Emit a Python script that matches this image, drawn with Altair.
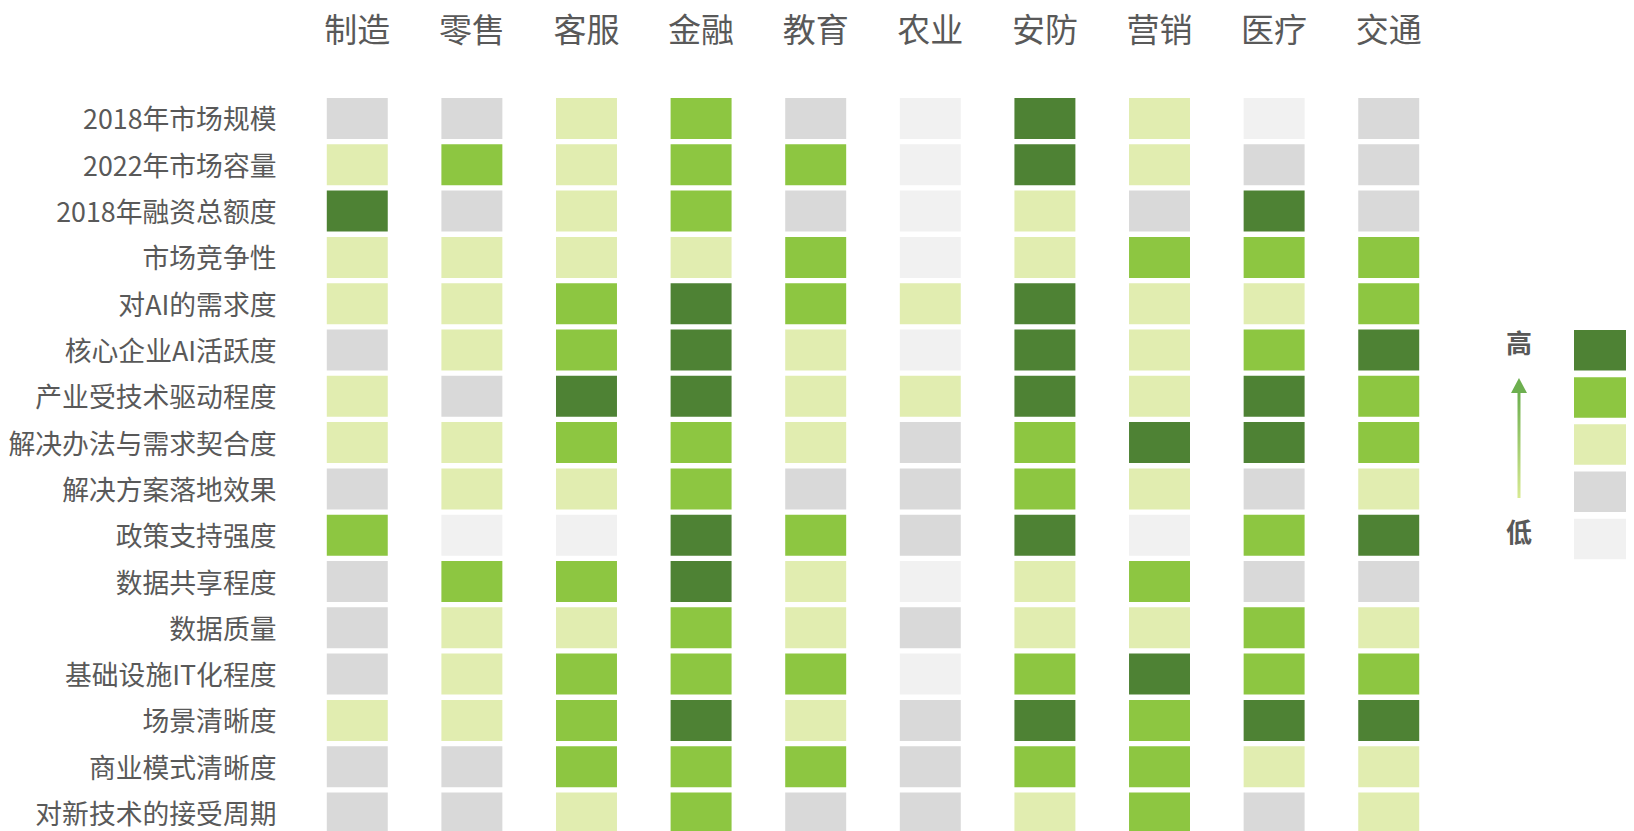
import altair as alt
import pandas as pd

# ---------------- data ----------------
industries = ["制造", "零售", "客服", "金融", "教育", "农业", "安防", "营销", "医疗", "交通"]
dimensions = [
    "2018年市场规模", "2022年市场容量", "2018年融资总额度", "市场竞争性",
    "对AI的需求度", "核心企业AI活跃度", "产业受技术驱动程度", "解决办法与需求契合度",
    "解决方案落地效果", "政策支持强度", "数据共享程度", "数据质量",
    "基础设施IT化程度", "场景清晰度", "商业模式清晰度", "对新技术的接受周期",
]
# level per industry (1 = 低 ... 5 = 高), order follows `industries`
r01 = [2, 2, 3, 4, 2, 1, 5, 3, 1, 2]
r02 = [3, 4, 3, 4, 4, 1, 5, 3, 2, 2]
r03 = [5, 2, 3, 4, 2, 1, 3, 2, 5, 2]
r04 = [3, 3, 3, 3, 4, 1, 3, 4, 4, 4]
r05 = [3, 3, 4, 5, 4, 3, 5, 3, 3, 4]
r06 = [2, 3, 4, 5, 3, 1, 5, 3, 4, 5]
r07 = [3, 2, 5, 5, 3, 3, 5, 3, 5, 4]
r08 = [3, 3, 4, 4, 3, 2, 4, 5, 5, 4]
r09 = [2, 3, 3, 4, 2, 2, 4, 3, 2, 3]
r10 = [4, 1, 1, 5, 4, 2, 5, 1, 4, 5]
r11 = [2, 4, 4, 5, 3, 1, 3, 4, 2, 2]
r12 = [2, 3, 3, 4, 3, 2, 3, 3, 4, 3]
r13 = [2, 3, 4, 4, 4, 1, 4, 5, 4, 4]
r14 = [3, 3, 4, 5, 3, 2, 5, 4, 5, 5]
r15 = [2, 2, 4, 4, 4, 2, 4, 4, 3, 3]
r16 = [2, 2, 3, 4, 2, 2, 3, 4, 2, 3]
rows = [r01, r02, r03, r04, r05, r06, r07, r08, r09, r10, r11, r12, r13, r14, r15, r16]

level_domain = [1, 2, 3, 4, 5]
level_colors = ["#F1F1F1", "#D9D9D9", "#E1EDB0", "#8DC641", "#4E8234"]
legend_levels = [5, 4, 3, 2, 1]
legend_marks = ["高", "低"]
legend_mark_levels = [5, 1]

# ---------------- tables ----------------
records = []
for dim, vals in zip(dimensions, rows):
    for ind, v in zip(industries, vals):
        records.append({"dimension": dim, "industry": ind, "level": v})
df = pd.DataFrame(records)
leg_df = pd.DataFrame({"level": legend_levels})
txt_df = pd.DataFrame({"level": legend_mark_levels, "label": legend_marks})
one_df = pd.DataFrame({"k": [0]})

FONT = "Noto Sans CJK SC"
TXT = "#595959"

color = alt.Color(
    "level:O",
    scale=alt.Scale(domain=level_domain, range=level_colors),
    legend=None,
)

heat = alt.Chart(df).mark_rect().encode(
    x=alt.X(
        "industry:N",
        sort=industries,
        scale=alt.Scale(domain=industries, range=[0, 1144], paddingInner=0.468, paddingOuter=0.225),
        axis=alt.Axis(
            orient="top", title=None, labelFontSize=33, labelFont=FONT, labelColor=TXT,
            labelPadding=47, labelAngle=0, labelLimit=400, domain=False, ticks=False, tickSize=0,
        ),
    ),
    y=alt.Y(
        "dimension:N",
        sort=dimensions,
        scale=alt.Scale(domain=dimensions, range=[0, 741.5], paddingInner=0.115, paddingOuter=0.065),
        axis=alt.Axis(
            title=None, labelFontSize=26.8, labelFont=FONT, labelColor=TXT,
            labelPadding=25, labelLimit=400, labelOffset=3, domain=False, ticks=False, tickSize=0,
        ),
    ),
    color=color,
)

leg_y = alt.Y(
    "level:O",
    sort=legend_levels,
    scale=alt.Scale(domain=legend_levels, range=[231.6, 467.6], paddingInner=0.142, paddingOuter=0.071),
    axis=None,
)

legend_rects = alt.Chart(leg_df).mark_rect().encode(
    x=alt.value(1273), x2=alt.value(1345), y=leg_y, color=color
)

legend_text = alt.Chart(txt_df).mark_text(
    font=FONT, fontSize=26, fontWeight="bold", color=TXT, baseline="middle", align="center", dy=-5
).encode(x=alt.value(1218), y=leg_y, text="label:N")

shaft = alt.Chart(one_df).mark_rect(
    fill=alt.Gradient(
        gradient="linear",
        stops=[
            alt.GradientStop(color="#D8EA92", offset=0),
            alt.GradientStop(color="#6DAF4F", offset=1),
        ],
        x1=0, x2=0, y1=1, y2=0,
    )
).encode(x=alt.value(1216.5), x2=alt.value(1219.5), y=alt.value(298), y2=alt.value(403))

head = alt.Chart(one_df).mark_point(
    shape="M-1,0.94L0,-0.94L1,0.94Z", size=256, filled=True, color="#6DAF4F", opacity=1, strokeWidth=0
).encode(x=alt.value(1218), y=alt.value(290.5))

legend_layer = alt.layer(legend_rects, legend_text, shaft, head)

chart = (
    alt.layer(heat, legend_layer)
    .resolve_scale(y="independent")
    .properties(
        width=1325,
        height=736,
        autosize=alt.AutoSizeParams(type="none"),
        padding={"left": 293, "top": 87, "right": 0, "bottom": 0},
        background="white",
    )
    .configure_view(stroke=None)
    .configure_axis(grid=False)
)

chart.save("out.html", embed_options={"renderer": "svg", "actions": False})
